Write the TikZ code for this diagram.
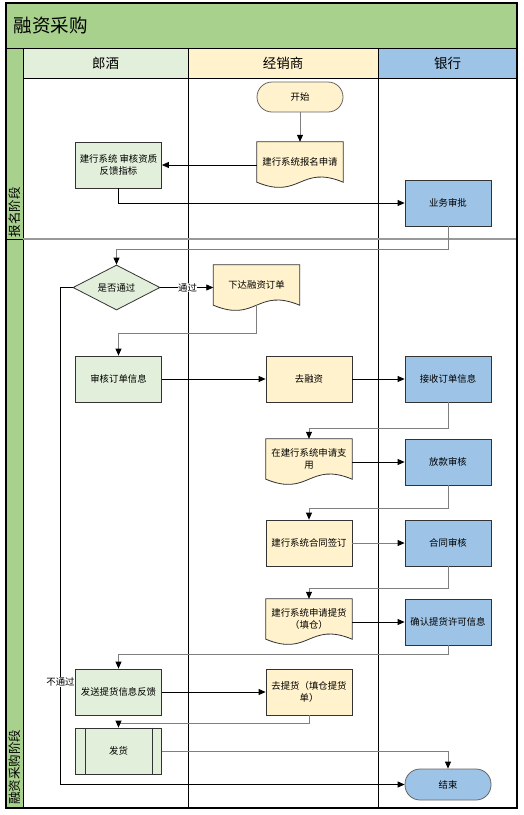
\documentclass[tikz,border=0pt]{standalone}
\usepackage{fontspec}
\setmainfont{Noto Sans CJK SC}
\usetikzlibrary{shapes.geometric,arrows.meta,calc}
\definecolor{titlegreen}{HTML}{A9D18E}
\definecolor{lgreen}{HTML}{E2EFDA}
\definecolor{lyellow}{HTML}{FFF2CC}
\definecolor{lblue}{HTML}{9DC3E6}
\definecolor{linegray}{HTML}{7F7F7F}
\pgfdeclarelayer{lanes}
\pgfdeclarelayer{docs}
\pgfsetlayers{lanes,docs,main}
\newcommand\docwave[2]{%
  \path[draw=black!80, line width=0.8pt, fill=#2]
    (#1.north west) -- (#1.north east) -- (#1.south east)
    .. controls ($(#1.south)+(0,-18)$) and ($(#1.south)+(0,18)$) .. (#1.south west) -- cycle;}
\begin{document}
\begin{tikzpicture}[x=1pt,y=-1pt,
  txt/.style={font=\fontsize{9.4}{12}\selectfont, align=center},
  box/.style={txt, draw=black!80, line width=0.8pt, minimum width=86pt, minimum height=46pt, inner sep=1pt},
  gbox/.style={box, fill=lgreen},
  ybox/.style={box, fill=lyellow},
  bbox/.style={box, fill=lblue},
  docbox/.style={txt, minimum width=86pt, minimum height=40pt, inner sep=1pt},
  term/.style={txt, draw=black!60, line width=0.8pt, rounded corners=15pt, minimum width=86pt, minimum height=30pt},
  decision/.style={txt, diamond, draw=black!80, line width=0.8pt, fill=lgreen, minimum width=87pt, minimum height=45pt, aspect=1.93, inner sep=0pt},
  flow/.style={line width=0.8pt, draw=black, -{Triangle[length=7pt,width=6pt,color=black]}},
  gflow/.style={flow, draw=linegray},
  lbl/.style={txt, fill=white, inner sep=0.5pt},
  lanehead/.style={font=\fontsize{13.5}{15}\selectfont},
  phase/.style={font=\fontsize{12.5}{14}\selectfont, rotate=90}
]
\useasboundingbox (0,0) rectangle (524,815);

% ---- lanes ----
\begin{pgfonlayer}{lanes}
  \fill[white] (0,0) rectangle (524,815);
  \draw[fill=titlegreen, line width=0.8pt] (6,3) rectangle (517,48);
  \draw[fill=titlegreen, line width=0.8pt] (6,48) rectangle (23,239);
  \draw[fill=titlegreen, line width=0.8pt] (6,239) rectangle (23,808);
  \draw[fill=lgreen, line width=0.8pt] (23,48) rectangle (188,78);
  \draw[fill=lyellow, line width=0.8pt] (188,48) rectangle (378,78);
  \draw[fill=lblue, line width=0.8pt] (378,48) rectangle (517,78);
  \draw[line width=0.8pt] (23,78) rectangle (188,808);
  \draw[line width=0.8pt] (188,78) rectangle (378,808);
  \draw[line width=0.8pt] (378,78) rectangle (517,808);
  \draw[black!40, line width=1.6pt] (23,239) -- (517,239);
  \draw[line width=1.2pt] (6,3) rectangle (517,808);
\end{pgfonlayer}

\node[font=\fontsize{18.5}{20}\selectfont, anchor=west] (title) at (10,25) {融资采购};
\node[lanehead] (h1) at (105.5,63) {郎酒};
\node[lanehead] (h2) at (283,63) {经销商};
\node[lanehead] (h3) at (447.5,63) {银行};
\node[phase] (p1) at (14.5,212) {报名阶段};
\node[phase] (p2) at (14.5,767) {融资采购阶段};

% ---- nodes ----
\node[term, fill=lyellow] (start) at (300,97) {开始};
\node[docbox] (apply) at (300,162) {建行系统报名申请};
\node[gbox] (review) at (118.5,165) {建行系统 审核资质\\反馈指标};
\node[bbox] (approve) at (448,203) {业务审批};
\node[decision] (pass) at (116.5,287.5) {是否通过};
\node[docbox] (order) at (256.5,285) {下达融资订单};
\node[gbox] (audit) at (118.5,379) {审核订单信息};
\node[ybox] (fin) at (309,379) {去融资};
\node[bbox] (recv) at (448,379) {接收订单信息};
\node[docbox] (use) at (309,459) {在建行系统申请支\\用};
\node[bbox] (loan) at (448,462) {放款审核};
\node[ybox] (sign) at (309,543) {建行系统合同签订};
\node[bbox] (contract) at (448,543) {合同审核};
\node[docbox] (pick) at (309,619) {建行系统申请提货\\（填仓）};
\node[bbox] (confirm) at (448,622) {确认提货许可信息};
\node[gbox] (send) at (118.5,692) {发送提货信息反馈};
\node[ybox] (go) at (309,692) {去提货（填仓提货\\单）};
\node[gbox] (ship) at (118.5,751) {发货};
\node[term, fill=lblue, minimum height=31pt] (end) at (448,784.5) {结束};
\draw[line width=0.8pt, black!80] ($(ship.north west)+(10,0)$) -- ($(ship.south west)+(10,0)$);
\draw[line width=0.8pt, black!80] ($(ship.north east)+(-10,0)$) -- ($(ship.south east)+(-10,0)$);

\begin{pgfonlayer}{docs}
  \docwave{apply}{lyellow}
  \docwave{order}{lyellow}
  \docwave{use}{lyellow}
  \docwave{pick}{lyellow}
\end{pgfonlayer}

% ---- connectors ----
\draw[gflow] (start) -- (apply);
\draw[flow] (apply.west |- review.east) -- (review.east);
\draw[flow] (review.south) |- (approve.west);
\draw[gflow] (approve.south) -- ++(0,23) -| (pass.north);
\draw[flow] (pass.east) -- (pass.east -| order.west);
\draw[gflow] (order.south) -- ++(0,28) -| (audit.north);
\draw[flow] (audit) -- (fin);
\draw[flow] (fin) -- (recv);
\draw[gflow] (recv.south) -- ++(0,26) -| (use.north);
\draw[flow] (use.east |- loan.west) -- (loan.west);
\draw[gflow] (loan.south) -- ++(0,23) -| (sign.north);
\draw[gflow] (sign) -- (contract);
\draw[gflow] (contract.south) -- ++(0,22) -| (pick.north);
\draw[flow] (pick.east |- confirm.west) -- (confirm.west);
\draw[gflow] (confirm.south) -- ++(0,9) -| (send.north);
\draw[flow] (send) -- (go);
\draw[gflow] (go.south) -- ++(0,8) -| (ship.north);
\draw[gflow] (ship.east) -| (end.north);
\draw[flow] (pass.west) -- ++(-12,0) |- (end.west);

\node[lbl] (yes) at (187.5,287.5) {通过};
\node[lbl] (no) at (60.5,682) {不通过};
\end{tikzpicture}
\end{document}
